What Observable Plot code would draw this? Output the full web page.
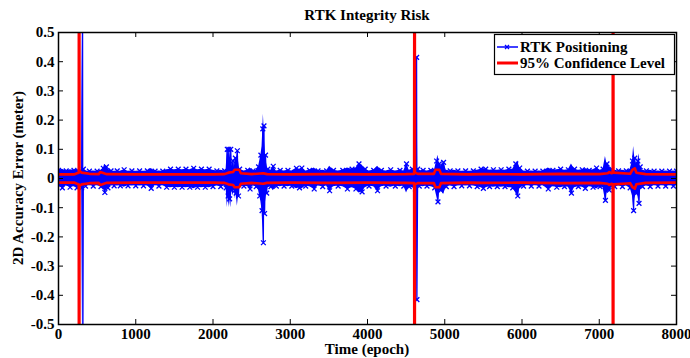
<!DOCTYPE html>
<html>
<head>
<meta charset="utf-8">
<script src="https://cdn.jsdelivr.net/npm/d3@7"></script>
<script src="https://cdn.jsdelivr.net/npm/@observablehq/plot@0.6"></script>
<style>
  html, body { margin: 0; padding: 0; background: #fff; }
</style>
</head>
<body>
<div id="chart"></div>
<script>
// ---- Data ----
const titleText = "RTK Integrity Risk";
const xLabel = "Time (epoch)";
const yLabel = "2D Accuracy Error (meter)";
const seriesNames = ["RTK Positioning", "95% Confidence Level"];
const xTicks = [0, 1000, 2000, 3000, 4000, 5000, 6000, 7000, 8000];
const yTicks = [-0.5, -0.4, -0.3, -0.2, -0.1, 0, 0.1, 0.2, 0.3, 0.4, 0.5];

// RTK positioning error: [epoch, error magnitude] (drawn alternating +/-)
const blueSamples = [
  [0,0.028],[50,0.032],[100,0.026],[150,0.03],[200,0.028],[240,0.032],[280,0.025],[300,0.032],[312,0.6],[316,0.6],[322,0.032],
  [350,0.026],[400,0.025],[450,0.026],[500,0.025],[550,0.028],[580,0.035],[600,0.048],[620,0.04],[640,0.032],[680,0.026],
  [720,0.025],[760,0.026],[800,0.025],[850,0.03],[900,0.025],[950,0.026],[1000,0.025],[1050,0.026],[1100,0.025],[1150,0.026],
  [1200,0.034],[1250,0.025],[1300,0.026],[1350,0.025],[1400,0.03],[1450,0.032],[1500,0.03],[1550,0.032],[1600,0.03],[1650,0.032],
  [1700,0.03],[1750,0.035],[1800,0.03],[1850,0.032],[1900,0.03],[1950,0.032],[2000,0.028],[2050,0.026],[2100,0.028],[2150,0.026],
  [2170,0.032],[2185,0.1],[2195,0.06],[2205,0.1],[2215,0.07],[2230,0.1],[2245,0.04],[2260,0.06],[2275,0.035],[2290,0.07],
  [2300,0.05],[2315,0.095],[2330,0.06],[2345,0.032],[2400,0.026],[2450,0.028],[2480,0.036],[2520,0.026],[2560,0.028],[2590,0.04],
  [2605,0.06],[2620,0.08],[2635,0.11],[2645,0.17],[2652,0.22],[2660,0.18],[2668,0.12],[2680,0.08],[2695,0.05],[2710,0.032],
  [2750,0.028],[2780,0.042],[2820,0.026],[2870,0.028],[2920,0.026],[2970,0.028],[3020,0.026],[3080,0.035],[3120,0.032],[3150,0.036],
  [3200,0.026],[3250,0.028],[3310,0.036],[3360,0.026],[3420,0.028],[3470,0.026],[3510,0.042],[3560,0.028],[3620,0.026],[3680,0.028],
  [3740,0.036],[3800,0.032],[3850,0.036],[3890,0.05],[3930,0.046],[3970,0.032],[4020,0.026],[4080,0.028],[4130,0.042],[4180,0.028],
  [4240,0.026],[4300,0.03],[4360,0.026],[4420,0.028],[4470,0.026],[4505,0.05],[4540,0.028],[4580,0.032],[4620,0.036],[4636,0.415],
  [4640,0.415],[4650,0.032],[4670,0.026],[4720,0.028],[4770,0.026],[4820,0.028],[4870,0.032],[4895,0.06],[4912,0.08],[4930,0.05],
  [4950,0.04],[4985,0.055],[5020,0.028],[5070,0.026],[5120,0.028],[5170,0.026],[5220,0.025],[5270,0.026],[5320,0.025],[5370,0.026],
  [5420,0.028],[5470,0.032],[5500,0.034],[5530,0.032],[5580,0.028],[5630,0.03],[5680,0.028],[5730,0.03],[5780,0.028],[5830,0.032],
  [5880,0.032],[5920,0.05],[5945,0.06],[5970,0.036],[6020,0.026],[6070,0.025],[6120,0.026],[6170,0.025],[6220,0.026],[6270,0.025],
  [6340,0.036],[6400,0.028],[6450,0.03],[6500,0.032],[6550,0.028],[6600,0.03],[6640,0.05],[6680,0.032],[6730,0.028],[6780,0.03],
  [6820,0.034],[6870,0.028],[6920,0.03],[6965,0.036],[7010,0.028],[7050,0.032],[7080,0.075],[7100,0.05],[7130,0.04],[7160,0.032],
  [7200,0.028],[7250,0.026],[7300,0.028],[7350,0.026],[7400,0.032],[7430,0.06],[7445,0.11],[7460,0.07],[7480,0.05],[7500,0.06],
  [7515,0.085],[7530,0.04],[7560,0.028],[7610,0.026],[7660,0.028],[7710,0.025],[7760,0.026],[7810,0.025],[7860,0.026],[7910,0.025],
  [7960,0.026],[8000,0.025]
];

// 95% confidence level: [epoch, bound] (drawn as +/- bound)
const confSamples = [
  [0,0.014],[200,0.014],[240,0.018],[262,0.02],[265,1.2],[269,1.2],[272,0.025],[300,0.02],[400,0.016],[520,0.015],[540,0.022],
  [570,0.02],[620,0.015],[1000,0.014],[1500,0.014],[2000,0.014],[2150,0.015],[2200,0.02],[2260,0.022],[2280,0.03],[2340,0.03],
  [2360,0.018],[2500,0.015],[2650,0.018],[2700,0.015],[3000,0.014],[3500,0.015],[4000,0.014],[4500,0.015],[4604,0.016],[4607,1.2],
  [4611,1.2],[4614,0.02],[4650,0.016],[4860,0.016],[4880,0.03],[4930,0.03],[4950,0.016],[5300,0.014],[5500,0.015],[6000,0.014],
  [6500,0.016],[7000,0.015],[7110,0.018],[7130,0.022],[7160,0.018],[7174,0.02],[7177,1.2],[7181,1.2],[7184,0.02],[7400,0.016],
  [7430,0.03],[7460,0.035],[7480,0.02],[7600,0.015],[8000,0.014]
];

// ---- Derived tables ----
const blue = blueSamples.map(([e, a], i) => ({e, a, v: (i % 2 ? -1 : 1) * a}));
const conf = confSamples.map(([e, c]) => ({e, c}));

const W = 690, H = 358, mL = 58, mR = 14, mT = 32, mB = 34;
const fw = W - mL - mR, fh = H - mT - mB;
const BLUE = "#0000ff", RED = "#ff0000";
const font = "'Liberation Serif', 'Times New Roman', serif";

const svg = Plot.plot({
  width: W, height: H,
  marginLeft: mL, marginRight: mR, marginTop: mT, marginBottom: mB,
  style: {fontFamily: font, fontWeight: "bold", fontSize: "15px", color: "black", background: "white", overflow: "visible"},
  x: {domain: [0, 8000], ticks: xTicks, tickFormat: d => String(d)},
  y: {domain: [-0.5, 0.5], ticks: yTicks, tickFormat: d => String(d)},
  marks: [
    Plot.areaY(blue, {x: "e", y1: d => -d.a, y2: d => d.a, fill: BLUE, clip: true}),
    Plot.line(blue, {x: "e", y: "v", stroke: BLUE, strokeWidth: 1.2, clip: true}),
    Plot.dot(blue, {x: "e", y: "v", symbol: "times", r: 2.3, stroke: BLUE, strokeWidth: 1.3, clip: true}),
    Plot.line(conf, {x: "e", y: "c", stroke: RED, strokeWidth: 2.6, clip: true}),
    Plot.line(conf, {x: "e", y: d => -d.c, stroke: RED, strokeWidth: 2.6, clip: true}),
    // inward ticks on all four sides
    Plot.tickX(xTicks, {x: d => d, insetTop: fh - 5, stroke: "black"}),
    Plot.tickX(xTicks, {x: d => d, insetBottom: fh - 5, stroke: "black"}),
    Plot.tickY(yTicks, {y: d => d, insetRight: fw - 5, stroke: "black"}),
    Plot.tickY(yTicks, {y: d => d, insetLeft: fw - 5, stroke: "black"}),
    Plot.axisX({ticks: xTicks, tickFormat: d => String(d), tickSize: 0, tickPadding: 4, label: null, fontWeight: "bold"}),
    Plot.axisY({ticks: yTicks, tickFormat: d => String(d), tickSize: 0, tickPadding: 4, label: null, fontWeight: "bold"}),
    Plot.frame({stroke: "black", strokeWidth: 1.5})
  ]
});

const s = d3.select(svg);
const txt = (x, y, t, anchor = "middle") =>
  s.append("text").attr("x", x).attr("y", y).attr("text-anchor", anchor)
    .attr("font-family", font).attr("font-weight", "bold").attr("font-size", 15).attr("fill", "black").text(t);

txt(mL + fw / 2, 20, titleText);
txt(mL + fw / 2, 354, xLabel);
s.append("text").attr("transform", `translate(23,${mT + fh / 2}) rotate(-90)`).attr("text-anchor", "middle")
  .attr("font-family", font).attr("font-weight", "bold").attr("font-size", 15).attr("fill", "black").text(yLabel);

// legend
const lg = s.append("g");
lg.append("rect").attr("x", 494.5).attr("y", 34.5).attr("width", 180).attr("height", 40)
  .attr("fill", "white").attr("stroke", "black").attr("stroke-width", 1.2);
lg.append("line").attr("x1", 497).attr("x2", 518).attr("y1", 47).attr("y2", 47).attr("stroke", BLUE).attr("stroke-width", 1.5);
lg.append("path").attr("d", "M505,45L509,49M509,45L505,49").attr("stroke", BLUE).attr("stroke-width", 1.3);
lg.append("line").attr("x1", 497).attr("x2", 518).attr("y1", 63).attr("y2", 63).attr("stroke", RED).attr("stroke-width", 3);
txt(520, 52, seriesNames[0], "start");
txt(520, 68, seriesNames[1], "start");

document.getElementById("chart").appendChild(svg);
</script>
</body>
</html>
